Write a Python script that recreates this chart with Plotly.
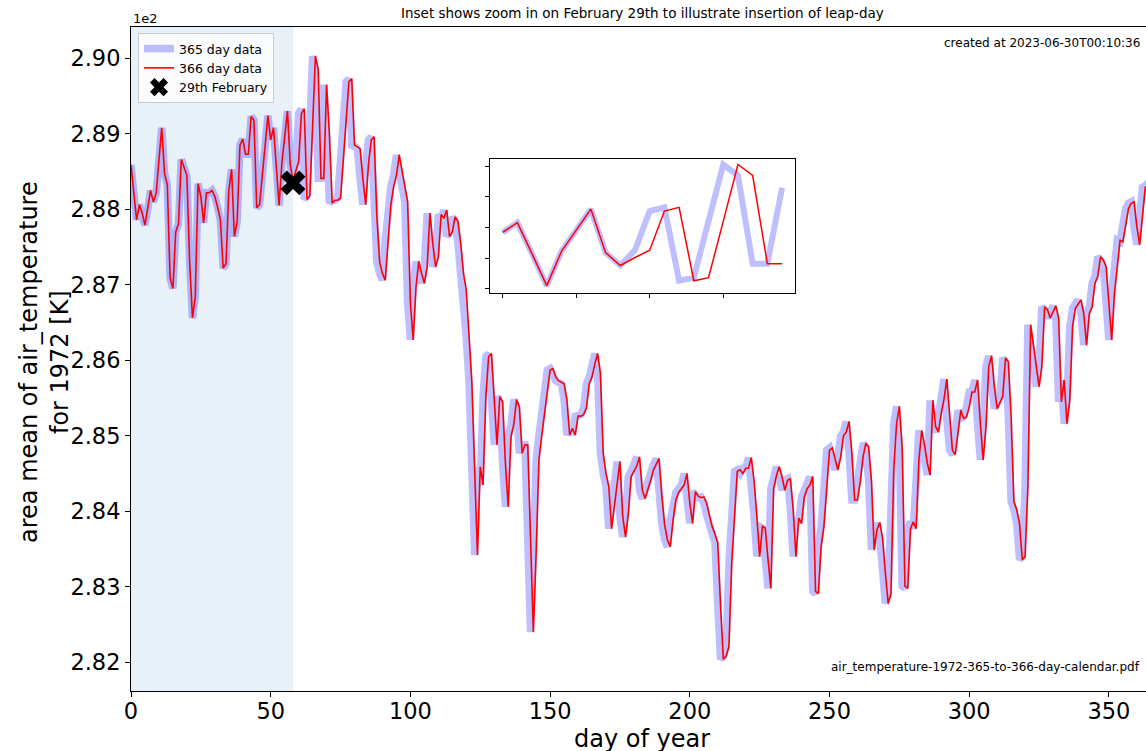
import plotly.graph_objects as go

# ---- data ----
# daily area-mean air temperature for 1972 on a 365 day calendar [K]
temp_365 = [
    288.59, 288.20, 287.86, 288.06, 287.95, 287.79, 288.00, 288.25, 288.10, 288.21,
    288.65, 289.08, 288.48, 288.32, 287.09, 286.95, 287.70, 287.81, 288.66, 288.54,
    288.45, 287.30, 286.56, 286.84, 288.34, 288.17, 287.82, 288.22, 288.22, 288.25,
    288.17, 288.03, 287.86, 287.22, 287.28, 288.25, 288.53, 287.64, 287.84, 288.85,
    288.93, 288.73, 288.73, 289.23, 289.18, 288.02, 288.06, 288.45, 288.85, 289.24,
    288.92, 289.08, 288.57, 288.05, 288.61, 288.96, 289.30, 288.59, 288.38, 288.63,
    289.27, 289.33, 288.13, 288.18, 289.10, 290.03, 289.85, 288.41, 288.41, 289.65,
    289.00, 288.08, 288.12, 288.12, 288.15, 288.70, 289.20, 289.69, 289.73, 288.85,
    288.83, 288.80, 288.40, 288.06, 288.60, 288.92, 288.96, 287.90, 287.30, 287.15,
    287.06, 287.60, 288.06, 288.30, 288.45, 288.72, 288.50, 288.30, 288.10, 286.76,
    286.27, 286.97, 287.31, 287.15, 287.02, 287.24, 287.95, 287.55, 287.24, 287.37,
    287.93, 287.88, 287.99, 287.64, 287.70, 287.90, 287.84, 287.55, 287.15, 286.93,
    286.30, 285.70, 284.55, 283.42, 284.59, 284.35, 285.52, 286.05, 286.09, 285.52,
    284.88, 285.52, 285.45, 284.64, 284.06, 284.99, 285.15, 285.48, 285.38, 284.77,
    284.88, 284.88, 283.60, 282.40, 283.44, 284.68, 285.00, 285.30, 285.65, 285.87,
    285.89, 285.78, 285.73, 285.71, 285.69, 285.48, 285.01, 285.10, 285.01, 285.26,
    285.26, 285.28, 285.37, 285.69, 285.78, 285.95, 286.09, 285.83, 284.77, 284.50,
    284.33, 283.77, 284.06, 284.40, 284.66, 283.93, 283.66, 283.97, 284.46, 284.53,
    284.60, 284.72, 284.28, 284.17, 284.28, 284.41, 284.55, 284.62, 284.70, 284.20,
    283.82, 283.62, 283.53, 283.88, 284.15, 284.25, 284.30, 284.35, 284.50, 284.11,
    283.84, 284.26, 284.20, 284.18, 284.19, 284.11, 283.95, 283.80, 283.70, 283.58,
    282.76, 282.04, 282.08, 282.21, 283.31, 284.00, 284.53, 284.55, 284.50, 284.57,
    284.57, 284.71, 284.41, 283.93, 283.40, 283.80, 283.78, 283.36, 282.98, 284.30,
    284.47, 284.59, 284.46, 284.28, 284.41, 284.43, 284.02, 283.40, 283.91, 283.84,
    284.19, 284.30, 284.35, 284.46, 282.94, 282.91, 283.53, 283.80, 284.30, 284.81,
    284.84, 284.68, 284.55, 284.72, 285.00, 285.05, 285.19, 284.77, 284.15, 284.15,
    284.39, 284.72, 284.90, 284.85, 284.41, 283.49, 283.76, 283.85, 283.64, 283.18,
    282.78, 282.91, 284.55, 285.16, 285.39, 284.85, 283.01, 282.98, 283.77, 283.86,
    283.77, 284.68, 285.07, 284.88, 284.64, 284.48, 285.47, 285.12, 285.05, 285.30,
    285.49, 285.75, 285.21, 284.81, 284.75, 285.07, 285.34, 285.23, 285.25, 285.38,
    285.58, 285.58, 285.74, 285.16, 284.68, 285.12, 285.92, 286.06, 285.65, 285.36,
    285.43, 285.52, 286.03, 285.98, 285.25, 284.13, 284.02, 283.84, 283.36, 283.40,
    284.33, 286.47, 286.20, 285.90, 285.65, 285.92, 286.71, 286.67, 286.56, 286.64,
    286.72, 286.56, 285.45, 285.74, 285.16, 285.47, 286.45, 286.69, 286.75, 286.80,
    286.62, 286.20, 286.62, 286.71, 287.02, 287.11, 287.37, 287.33, 287.24, 286.80,
    286.27, 286.89, 287.20, 287.59, 287.57, 287.80, 288.01, 288.08, 288.10, 287.77,
    287.53, 287.90, 288.29, 288.31, 288.35,
]
leap_day_index = 59          # position of 29th February in the 366 day series
leap_day_value = 288.51      # value inserted for 29th February
marker_day = [58]
marker_value = [288.35]
shade_end_day = 58
inset_days = (50, 70)

temp_366 = temp_365[:leap_day_index] + [leap_day_value] + temp_365[leap_day_index:]
days_365 = list(range(len(temp_365)))
days_366 = list(range(len(temp_366)))

y_tickvals = [282, 283, 284, 285, 286, 287, 288, 289, 290]
y_ticktext = ["2.82", "2.83", "2.84", "2.85", "2.86", "2.87", "2.88", "2.89", "2.90"]
x_tickvals = [0, 50, 100, 150, 200, 250, 300, 350]

# ---- figure ----
W, H = 1146, 751
L, R, T, B = 131, 0, 27, 60
pw, ph = W - L - R, H - T - B
px_per_day = 2.794
px_per_K = 75.5
x_range = [0, pw / px_per_day]
y_range = [290 - (691 - 58.3) / px_per_K, 290 + (58.3 - 27) / px_per_K]

def px_x(x):
    return (x - L) / pw

def px_y(y):
    return (H - B - y) / ph

BLUE = "rgba(0,0,255,0.25)"
FONT = "DejaVu Sans"

fig = go.Figure()
fig.add_trace(go.Scatter(x=days_365, y=temp_365, mode="lines", name="365 day data",
                         line=dict(color=BLUE, width=7.5)))
fig.add_trace(go.Scatter(x=days_366, y=temp_366, mode="lines", name="366 day data",
                         line=dict(color="red", width=1.6)))
fig.add_trace(go.Scatter(x=marker_day, y=marker_value, mode="markers", name="29th February",
                         marker=dict(symbol="x", size=22, color="black")))

i0, i1 = inset_days
fig.add_trace(go.Scatter(x=days_365[i0:i1], y=temp_365[i0:i1], mode="lines", showlegend=False,
                         line=dict(color=BLUE, width=6), xaxis="x2", yaxis="y2"))
fig.add_trace(go.Scatter(x=days_366[i0:i1], y=temp_366[i0:i1], mode="lines", showlegend=False,
                         line=dict(color="red", width=1.5), xaxis="x2", yaxis="y2"))

fig.add_shape(type="rect", xref="x", yref="paper", x0=0, x1=shade_end_day, y0=0, y1=1,
              fillcolor="rgba(31,119,180,0.1)", line=dict(width=0), layer="below")

axis_common = dict(showgrid=False, zeroline=False, showline=True, linecolor="black",
                   linewidth=1, ticks="outside", ticklen=5, tickcolor="black",
                   tickfont=dict(family=FONT, size=22.5, color="black"))

fig.update_layout(
    width=W, height=H,
    margin=dict(l=L, r=R, t=T, b=B),
    paper_bgcolor="white", plot_bgcolor="white",
    font=dict(family=FONT, color="black"),
    xaxis=dict(range=x_range, tickvals=x_tickvals, mirror=True, domain=[0, 1],
               ticklabelstandoff=-5, **axis_common),
    yaxis=dict(range=y_range, tickvals=y_tickvals, ticktext=y_ticktext, **axis_common),
    xaxis2=dict(domain=[px_x(490), px_x(795)], anchor="y2",
                range=[49.14, 69.88], tickvals=[50, 55, 60, 65], showticklabels=False,
                showgrid=False, zeroline=False, showline=True, mirror=True, linecolor="black",
                ticks="outside", ticklen=4, tickcolor="black"),
    yaxis2=dict(domain=[px_y(293), px_y(159)], anchor="x2",
                range=[287.93, 290.12], tickvals=[288, 288.5, 289, 289.5, 290], showticklabels=False,
                showgrid=False, zeroline=False, showline=True, mirror=True, linecolor="black",
                ticks="outside", ticklen=4, tickcolor="black"),
    showlegend=True,
    legend=dict(x=px_x(138), y=px_y(33), xanchor="left", yanchor="top",
                bgcolor="rgba(255,255,255,0.8)", bordercolor="#cccccc", borderwidth=1,
                font=dict(family=FONT, size=12.5, color="black"), itemwidth=30,
                tracegroupgap=0),
)

ann = [
    dict(text="Inset shows zoom in on February 29th to illustrate insertion of leap-day",
         x=px_x(642), y=px_y(13), xanchor="center", yanchor="middle", font=dict(size=13.5)),
    dict(text="1e2", x=px_x(131), y=px_y(18), xanchor="left", yanchor="middle", font=dict(size=13)),
    dict(text="created at 2023-06-30T00:10:36", x=px_x(1142), y=px_y(43),
         xanchor="right", yanchor="middle", font=dict(size=12)),
    dict(text="air_temperature-1972-365-to-366-day-calendar.pdf", x=px_x(1142), y=px_y(667),
         xanchor="right", yanchor="middle", font=dict(size=12)),
    dict(text="day of year", x=px_x(642), y=px_y(739), xanchor="center", yanchor="middle",
         font=dict(size=24)),
    dict(text="area mean of air_temperature<br>for 1972 [K]", x=px_x(44), y=px_y(362),
         xanchor="center", yanchor="middle", textangle=-90, font=dict(size=24)),
]
for a in ann:
    a.update(xref="paper", yref="paper", showarrow=False)
    a["font"].update(family=FONT, color="black")
    fig.add_annotation(**a)

fig.write_html("out.html", config={"displayModeBar": False},
               post_script="document.body.style.margin='0px';document.body.style.overflow='hidden';")
